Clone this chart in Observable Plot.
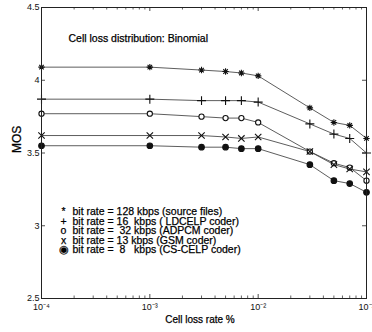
<!DOCTYPE html>
<html>
<head>
<meta charset="utf-8">
<script src="https://cdn.jsdelivr.net/npm/d3@7"></script>
<script src="https://cdn.jsdelivr.net/npm/@observablehq/plot@0.6"></script>
<style>
  html, body { margin: 0; padding: 0; background: #fff; }
  svg { display: block; }
</style>
</head>
<body>
<div id="chart"></div>
<script>
// Cell loss rate (%) sample points
const lossRates = [1e-4, 1e-3, 3e-3, 5e-3, 7e-3, 1e-2, 3e-2, 5e-2, 7e-2, 1e-1];
// MOS per coder
const mos128 = [4.09, 4.09, 4.07, 4.06, 4.05, 4.03, 3.81, 3.71, 3.69, 3.60];
const mos16  = [3.87, 3.87, 3.86, 3.86, 3.86, 3.85, 3.70, 3.63, 3.60, 3.50];
const mos32  = [3.77, 3.77, 3.75, 3.74, 3.74, 3.71, 3.51, 3.43, 3.40, 3.31];
const mos13  = [3.62, 3.62, 3.62, 3.61, 3.60, 3.61, 3.51, 3.42, 3.39, 3.37];
const mos8   = [3.55, 3.55, 3.54, 3.54, 3.53, 3.53, 3.42, 3.31, 3.29, 3.23];

const legendSymbols = ["*", "+", "o", "x", "◉"];
const legendLabels = [
  "bit rate = 128 kbps (source files)",
  "bit rate = 16  kbps ( LDCELP coder)",
  "bit rate =  32 kbps (ADPCM coder)",
  "bit rate = 13 kbps (GSM coder)",
  "bit rate =  8   kbps (CS-CELP coder)"
];
const titleText = "Cell loss distribution: Binomial";
const xLabel = "Cell loss rate %";
const yLabel = "MOS";

const xMajor = [1e-4, 1e-3, 1e-2, 1e-1];
const xTickLabels = ["10⁻⁴", "10⁻³", "10⁻²", "10⁻¹"];
const xMinor = [];
for (const d of xMajor.slice(0, 3)) for (let k = 2; k <= 9; k++) xMinor.push(d * k);
const yTicks = [2.5, 3, 3.5, 4, 4.5];
const yTickLabels = ["2.5", "3", "3.5", "4", "4.5"];

// 8-ray asterisk like MATLAB '*'
const asterisk8 = {
  draw(context, size) {
    const r = Math.sqrt(size / Math.PI);
    const d = r * Math.SQRT1_2;
    context.moveTo(-r, 0); context.lineTo(r, 0);
    context.moveTo(0, -r); context.lineTo(0, r);
    context.moveTo(-d, -d); context.lineTo(d, d);
    context.moveTo(-d, d); context.lineTo(d, -d);
  }
};

const series = [
  {vals: mos128, symbol: asterisk8, fill: "none", stroke: "#111", r: 3.2},
  {vals: mos16, symbol: "plus", fill: "none", stroke: "#111", r: 3.0},
  {vals: mos32, symbol: "circle", fill: "white", stroke: "#111", r: 2.6},
  {vals: mos13, symbol: "times", fill: "none", stroke: "#111", r: 3.0},
  {vals: mos8, symbol: "circle", fill: "#111", stroke: "#111", r: 2.8}
];

const plotW = 325, plotH = 291;
const marks = [];

series.forEach(s => {
  const rows = lossRates.map((x, i) => ({x, y: s.vals[i]}));
  marks.push(Plot.line(rows, {x: "x", y: "y", stroke: "#333", strokeWidth: 0.8}));
});
series.forEach(s => {
  const rows = lossRates.map((x, i) => ({x, y: s.vals[i]}));
  marks.push(Plot.dot(rows, {x: "x", y: "y", symbol: s.symbol, r: s.r, fill: s.fill, stroke: s.stroke, strokeWidth: 1.1}));
});

const textStyle = {fill: "#000", stroke: "#000", strokeWidth: 0.25};

// inward ticks
marks.push(
  Plot.tickX(xMajor, {x: d => d, insetTop: plotH - 4, stroke: "#222", strokeWidth: 0.8}),
  Plot.tickX(xMajor, {x: d => d, insetBottom: plotH - 4, stroke: "#222", strokeWidth: 0.8}),
  Plot.tickX(xMinor, {x: d => d, insetTop: plotH - 2.5, stroke: "#222", strokeWidth: 0.7}),
  Plot.tickX(xMinor, {x: d => d, insetBottom: plotH - 2.5, stroke: "#222", strokeWidth: 0.7}),
  Plot.tickY(yTicks, {y: d => d, insetRight: plotW - 4, stroke: "#222", strokeWidth: 0.8}),
  Plot.tickY(yTicks, {y: d => d, insetLeft: plotW - 4, stroke: "#222", strokeWidth: 0.8}),
  Plot.frame({stroke: "#222", strokeWidth: 1}),
  Plot.axisX({ticks: xMajor, tickSize: 0, tickPadding: 5, tickFormat: d => xTickLabels[xMajor.indexOf(d)], label: null, fontSize: 9, fill: "#111"}),
  Plot.axisY({ticks: yTicks, tickSize: 0, tickPadding: 2, tickFormat: d => yTickLabels[yTicks.indexOf(d)], label: null, fontSize: 9, fill: "#111"}),
  Plot.text([yLabel], {text: d => d, frameAnchor: "left", rotate: -90, dx: -24, fontSize: 12, ...textStyle}),
  Plot.text([xLabel], {text: d => d, frameAnchor: "bottom", dx: -4, dy: 24, fontSize: 10, ...textStyle}),
  Plot.text([titleText], {text: d => d, frameAnchor: "top-left", textAnchor: "start", dx: 27, dy: 27, fontSize: 10.5, ...textStyle}),
  Plot.text([legendSymbols.join("\n")], {text: d => d, frameAnchor: "top-left", textAnchor: "middle", lineAnchor: "top", dx: 22, dy: 201, fontSize: 10.5, lineHeight: 0.9, ...textStyle}),
  Plot.text([legendLabels.join("\n")], {text: d => d, frameAnchor: "top-left", textAnchor: "start", lineAnchor: "top", dx: 31, dy: 201, fontSize: 10.5, lineHeight: 0.9, ...textStyle})
);

const chart = Plot.plot({
  width: 372,
  height: 332,
  marginLeft: 41,
  marginRight: 6,
  marginTop: 7,
  marginBottom: 34,
  style: {fontFamily: "'Liberation Sans', Arial, sans-serif", background: "#fff", color: "#111"},
  x: {type: "log", domain: [1e-4, 1e-1], label: null},
  y: {domain: [2.5, 4.5], label: null},
  marks
});
document.getElementById("chart").appendChild(chart);
</script>
</body>
</html>
